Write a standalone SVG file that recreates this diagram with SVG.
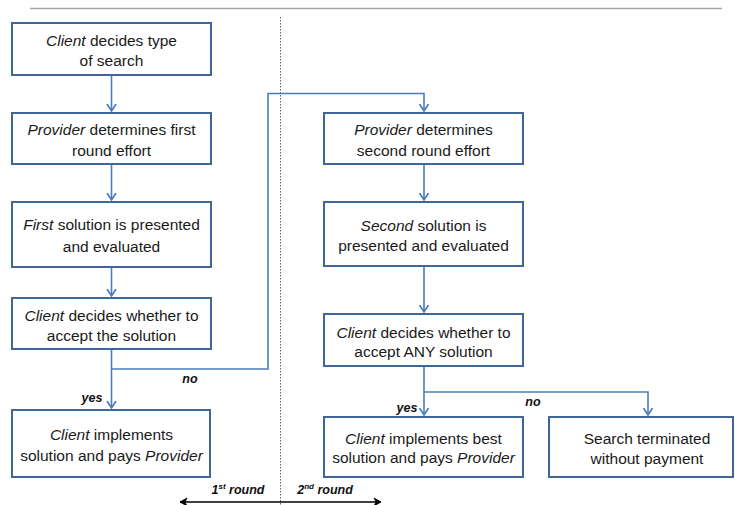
<svg xmlns="http://www.w3.org/2000/svg" width="735" height="505" viewBox="0 0 735 505">
<style>
.box{fill:#fff;stroke:#41679A;stroke-width:2}
.t{font-family:"Liberation Sans",Arial,sans-serif;font-size:15.5px;fill:#1a1a1a;text-anchor:middle}
.i{font-style:italic}
.lbl{font-family:"Liberation Sans",Arial,sans-serif;font-size:12.5px;font-weight:bold;font-style:italic;fill:#111}
.c{fill:none;stroke:#4A7EBB;stroke-width:1.6}
</style>
<defs>
<marker id="ah" viewBox="-7 -6 12 12" markerWidth="12" markerHeight="12" refX="0" refY="0" orient="auto" markerUnits="userSpaceOnUse">
<path d="M-7,-4.5 L0,0 L-7,4.5" fill="none" stroke="#4A7EBB" stroke-width="1.7"/>
</marker>
<marker id="bk" viewBox="-8 -5 10 10" markerWidth="10" markerHeight="10" refX="0" refY="0" orient="auto-start-reverse" markerUnits="userSpaceOnUse">
<path d="M-7,-4 L0,0 L-7,4 L-5,0 Z" fill="#000" stroke="#000" stroke-width="0.8"/>
</marker>
</defs>
<line x1="30" y1="8.5" x2="722" y2="8.5" stroke="#A6A6A6" stroke-width="1.5"/>
<line x1="280.5" y1="17" x2="280.5" y2="505" stroke="#666" stroke-width="1" stroke-dasharray="1.5,1.5"/>

<g id="connectors">
<line class="c" x1="111.5" y1="75" x2="111.5" y2="111" marker-end="url(#ah)"/>
<line class="c" x1="111.5" y1="164" x2="111.5" y2="200" marker-end="url(#ah)"/>
<line class="c" x1="111.5" y1="267" x2="111.5" y2="296" marker-end="url(#ah)"/>
<line class="c" x1="111.5" y1="349" x2="111.5" y2="408" marker-end="url(#ah)"/>
<polyline class="c" points="111.5,369 268,369 268,93.5 424,93.5 424,111" marker-end="url(#ah)"/>
<line class="c" x1="424" y1="164" x2="424" y2="200" marker-end="url(#ah)"/>
<line class="c" x1="424" y1="266" x2="424" y2="312" marker-end="url(#ah)"/>
<line class="c" x1="424" y1="366" x2="424" y2="415" marker-end="url(#ah)"/>
<polyline class="c" points="424,392 648,392 648,415" marker-end="url(#ah)"/>
<line x1="180" y1="502" x2="381" y2="502" stroke="#000" stroke-width="1.3" marker-start="url(#bk)" marker-end="url(#bk)"/>
</g>

<g id="labels">
<text class="lbl" x="190" y="383" text-anchor="middle">no</text>
<text class="lbl" x="92" y="402" text-anchor="middle">yes</text>
<text class="lbl" x="407" y="412" text-anchor="middle">yes</text>
<text class="lbl" x="533" y="406" text-anchor="middle">no</text>
<text class="lbl" x="238" y="494" text-anchor="middle">1<tspan font-size="8" dy="-5">st</tspan><tspan dy="5"> round</tspan></text>
<text class="lbl" x="325" y="494" text-anchor="middle">2<tspan font-size="8" dy="-5">nd</tspan><tspan dy="5"> round</tspan></text>
</g>

<g id="n1">
<rect class="box" x="12" y="23" width="199" height="52"/>
<text class="t" x="111.5" y="45.5"><tspan class="i">Client</tspan> decides type</text>
<text class="t" x="111.5" y="65.5">of search</text>
</g>
<g id="n2">
<rect class="box" x="12" y="113" width="199" height="51"/>
<text class="t" x="111.5" y="134.5"><tspan class="i">Provider</tspan> determines first</text>
<text class="t" x="111.5" y="155.5">round effort</text>
</g>
<g id="n3">
<rect class="box" x="12" y="202" width="199" height="65"/>
<text class="t" x="111.5" y="229.5"><tspan class="i">First</tspan> solution is presented</text>
<text class="t" x="111.5" y="251.5">and evaluated</text>
</g>
<g id="n4">
<rect class="box" x="12" y="298" width="199" height="51"/>
<text class="t" x="111.5" y="320.5"><tspan class="i">Client</tspan> decides whether to</text>
<text class="t" x="111.5" y="340.5">accept the solution</text>
</g>
<g id="n5">
<rect class="box" x="12" y="410" width="198" height="67"/>
<text class="t" x="111.5" y="439.5"><tspan class="i">Client</tspan> implements</text>
<text class="t" x="111.5" y="460.5">solution and pays <tspan class="i">Provider</tspan></text>
</g>
<g id="r1">
<rect class="box" x="324" y="113" width="199" height="51"/>
<text class="t" x="423.5" y="134.5"><tspan class="i">Provider</tspan> determines</text>
<text class="t" x="423.5" y="155.5">second round effort</text>
</g>
<g id="r2">
<rect class="box" x="324" y="202" width="199" height="64"/>
<text class="t" x="423.5" y="230.5"><tspan class="i">Second</tspan> solution is</text>
<text class="t" x="423.5" y="250.5">presented and evaluated</text>
</g>
<g id="r3">
<rect class="box" x="324" y="314" width="199" height="52"/>
<text class="t" x="423.5" y="337.5"><tspan class="i">Client</tspan> decides whether to</text>
<text class="t" x="423.5" y="356.5">accept ANY solution</text>
</g>
<g id="r4">
<rect class="box" x="324" y="417" width="199" height="60"/>
<text class="t" x="423.5" y="443.5"><tspan class="i">Client</tspan> implements best</text>
<text class="t" x="423.5" y="462.5">solution and pays <tspan class="i">Provider</tspan></text>
</g>
<g id="r5">
<rect class="box" x="549" y="417" width="184" height="60"/>
<text class="t" x="647" y="443.5">Search terminated</text>
<text class="t" x="647" y="463.5">without payment</text>
</g>
</svg>
